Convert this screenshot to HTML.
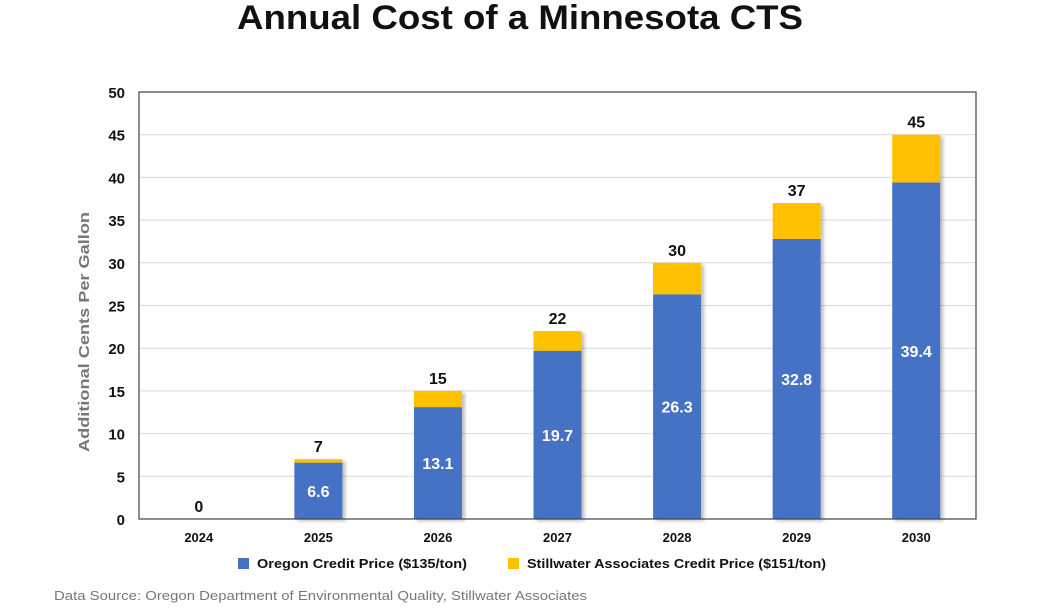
<!DOCTYPE html>
<html><head><meta charset="utf-8"><style>
body{margin:0;background:#fff;font-family:"Liberation Sans",sans-serif;}
</style></head><body>
<svg width="1048" height="608" xmlns="http://www.w3.org/2000/svg">
<defs><filter id="sh" x="-20%" y="-5%" width="150%" height="120%"><feDropShadow dx="3" dy="2" stdDeviation="1.5" flood-color="#000" flood-opacity="0.25"/></filter></defs>
<text x="237" y="29" textLength="566" lengthAdjust="spacingAndGlyphs" font-size="34" font-weight="bold" fill="#111">Annual Cost of a Minnesota CTS</text>
<g id="grid"></g>
<g id="bars"></g>
<rect x="139" y="92" width="837" height="427" fill="none" stroke="#444" stroke-width="1.2"/>
<text transform="translate(89,452) rotate(-90)" textLength="240" lengthAdjust="spacingAndGlyphs" font-size="15" font-weight="bold" fill="#777">Additional Cents Per Gallon</text>
<g>
<rect x="238" y="558" width="11" height="11" fill="#4472C4"/>
<text x="257" y="568" textLength="210" lengthAdjust="spacingAndGlyphs" font-size="13" font-weight="bold" fill="#111">Oregon Credit Price ($135/ton)</text>
<rect x="508" y="558" width="11" height="11" fill="#FFC000"/>
<text x="527" y="568" textLength="299" lengthAdjust="spacingAndGlyphs" font-size="13" font-weight="bold" fill="#111">Stillwater Associates Credit Price ($151/ton)</text>
</g>
<text x="54" y="600" textLength="533" lengthAdjust="spacingAndGlyphs" font-size="13" fill="#777">Data Source: Oregon Department of Environmental Quality, Stillwater Associates</text>
</svg>
<script>
const categories=["2024","2025","2026","2027","2028","2029","2030"];
const oregonValues=[0,6.6,13.1,19.7,26.3,32.8,39.4];
const totalValues=[0,7,15,22,30,37,45];
const yTicks=[0,5,10,15,20,25,30,35,40,45,50];
const NS="http://www.w3.org/2000/svg";
const X0=139,X1=976,Y0=519,Y1=92,YMAX=50;
const y=v=>Y0-(v/YMAX)*(Y0-Y1);
const step=(X1-X0)/categories.length;
const xc=i=>X0+step*(i+0.5);
const BW=48;
function mk(tag,attrs,parent){const e=document.createElementNS(NS,tag);for(const k in attrs)e.setAttribute(k,attrs[k]);parent.appendChild(e);return e;}
const grid=document.getElementById('grid'),bars=document.getElementById('bars');
yTicks.forEach(t=>{
 const l=mk('line',{x1:X0,x2:X1,y1:y(t),y2:y(t),stroke:'#d9d9d9','stroke-width':1},grid);
 
 
 const tx=mk('text',{x:125,y:y(t)+6,'text-anchor':'end','font-size':15,'font-weight':'bold',fill:'#111'},grid);
 tx.textContent=t;
 
 
});
categories.forEach((c,i)=>{
 const cx=xc(i),o=oregonValues[i],t=totalValues[i];
 if(t>0){
  const g=mk('g',{filter:'url(#sh)'},bars);
  const b=mk('rect',{x:cx-BW/2,y:y(o),width:BW,height:y(0)-y(o),fill:'#4472C4'},g);
  
  
  const s=mk('rect',{x:cx-BW/2,y:y(t),width:BW,height:y(o)-y(t),fill:'#FFC000'},g);
  
  
  const vl=mk('text',{x:cx,y:(y(o)+y(0))/2+6,'text-anchor':'middle','font-size':16,'font-weight':'bold',fill:'#fff'},bars);
  vl.textContent=o;
  
  
 }
 const tl=mk('text',{x:cx,y:y(t)-7,'text-anchor':'middle','font-size':16,'font-weight':'bold',fill:'#111'},bars);
 tl.textContent=t;
 
 
 const xl=mk('text',{x:cx,y:542,'text-anchor':'middle','font-size':13,'font-weight':'bold',fill:'#111'},bars);
 xl.textContent=c;
 
 
});
</script>
</body></html>
